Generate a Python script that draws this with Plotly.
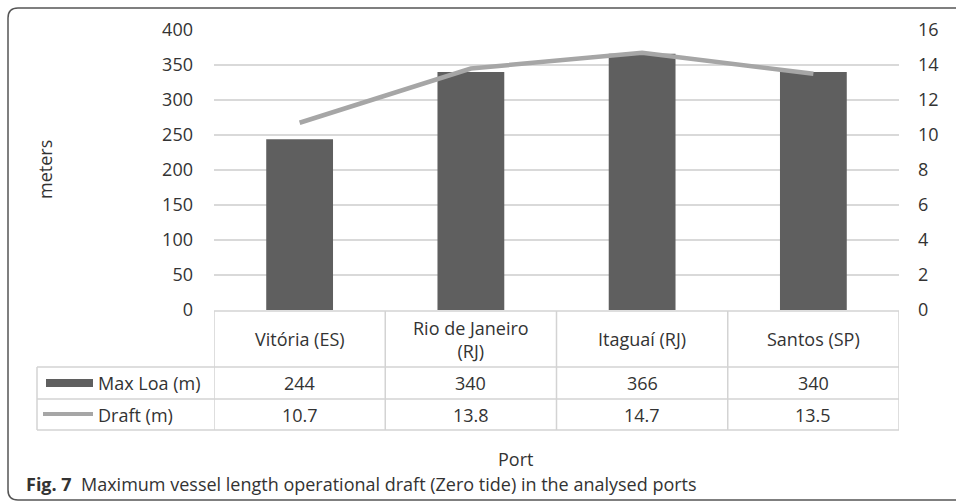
import plotly.graph_objects as go

ports = ["Vitória (ES)", "Rio de Janeiro<br>(RJ)", "Itaguaí (RJ)", "Santos (SP)"]
max_loa = [244, 340, 366, 340]
draft = [10.7, 13.8, 14.7, 13.5]
left_ticks = [0, 50, 100, 150, 200, 250, 300, 350, 400]
right_ticks = [0, 2, 4, 6, 8, 10, 12, 14, 16]

W, H = 956, 502
L, R, T, B = 214, 57, 30, 192
PW, PH = W - L - R, H - T - B

BAR = "#5f5f5f"
LINE = "#a6a6a6"
GRID = "#d9d9d9"
TXT = "#333333"
FONT = "Open Sans"


def px(x):
    return (x - L) / PW


def py(y):
    return (T + PH - y) / PH


fig = go.Figure()

fig.add_trace(go.Bar(x=ports, y=max_loa, name="Max Loa (m)",
                     marker=dict(color=BAR, line=dict(width=0)), width=0.39))
fig.add_trace(go.Scatter(x=ports, y=draft, name="Draft (m)", yaxis="y2",
                         mode="lines", line=dict(color=LINE, width=4.5)))

fig.update_layout(
    width=W, height=H,
    margin=dict(l=L, r=R, t=T, b=B),
    plot_bgcolor="white", paper_bgcolor="white",
    showlegend=False,
    font=dict(family=FONT, size=18, color=TXT),
    xaxis=dict(type="category", showticklabels=False, showgrid=False,
               zeroline=False, range=[-0.5, 3.5]),
    yaxis=dict(range=[0, 400], tickvals=left_ticks, gridcolor=GRID, gridwidth=1.5,
               zeroline=False, ticklabelstandoff=20, fixedrange=True),
    yaxis2=dict(range=[0, 16], tickvals=right_ticks, overlaying="y", side="right",
                showgrid=False, zeroline=False, ticklabelstandoff=18),
)

shapes = []
tl = dict(color="#d3d3d3", width=1.5)
# table horizontal lines
shapes.append(dict(type="line", xref="paper", yref="paper", x0=0, x1=1,
                   y0=py(311), y1=py(311), line=tl))
for yy in [367, 399, 430]:
    shapes.append(dict(type="line", xref="paper", yref="paper", x0=px(37), x1=1,
                       y0=py(yy), y1=py(yy), line=tl))
# table vertical lines
for i in range(len(ports) + 1):
    shapes.append(dict(type="line", xref="x", yref="paper", x0=i - 0.5, x1=i - 0.5,
                       y0=py(311), y1=py(430), line=tl))
shapes.append(dict(type="line", xref="paper", yref="paper", x0=px(37), x1=px(37),
                   y0=py(367), y1=py(430), line=tl))
# legend keys inside table
shapes.append(dict(type="rect", xref="paper", yref="paper", x0=px(46), x1=px(93),
                   y0=py(387), y1=py(379), fillcolor=BAR, line=dict(width=0)))
shapes.append(dict(type="line", xref="paper", yref="paper", x0=px(43), x1=px(93),
                   y0=py(414), y1=py(414), line=dict(color=LINE, width=4)))
# outer rounded frame
r = 10
path = (f"M {px(970)} {py(8)} L {px(8 + r)} {py(8)} "
        f"Q {px(8)} {py(8)} {px(8)} {py(8 + r)} "
        f"L {px(8)} {py(500 - r)} Q {px(8)} {py(500)} {px(8 + r)} {py(500)} "
        f"L {px(970)} {py(500)}")
shapes.append(dict(type="path", xref="paper", yref="paper", path=path,
                   line=dict(color="#555555", width=1.5)))
fig.update_layout(shapes=shapes)

ann = []
mid = dict(showarrow=False, xanchor="center", yanchor="middle")
for p in ports:
    ann.append(dict(x=p, y=py(339), xref="x", yref="paper", text=p, **mid))
for p, v in zip(ports, max_loa):
    ann.append(dict(x=p, y=py(383), xref="x", yref="paper", text=str(v), **mid))
for p, v in zip(ports, draft):
    ann.append(dict(x=p, y=py(415), xref="x", yref="paper", text=f"{v:.1f}", **mid))
ann.append(dict(x=px(96), y=py(383), xref="paper", yref="paper", text="Max Loa (m)",
                xanchor="left", yanchor="middle", showarrow=False))
ann.append(dict(x=px(96), y=py(415), xref="paper", yref="paper", text="Draft (m)",
                xanchor="left", yanchor="middle", showarrow=False))
ann.append(dict(x=px(45), y=py(170), xref="paper", yref="paper", text="meters",
                textangle=-90, **mid))
ann.append(dict(x=px(515), y=py(459), xref="paper", yref="paper", text="Port", **mid))
ann.append(dict(x=px(24), y=py(484), xref="paper", yref="paper", xanchor="left",
                yanchor="middle",
                text="<b>Fig. 7</b>  Maximum vessel length operational draft (Zero tide) in the analysed ports",
                showarrow=False, font=dict(size=18, color="#333333")))
fig.update_layout(annotations=ann)

fig.write_html("out.html", config={"displayModeBar": False},
               post_script="document.body.style.margin='0';")
